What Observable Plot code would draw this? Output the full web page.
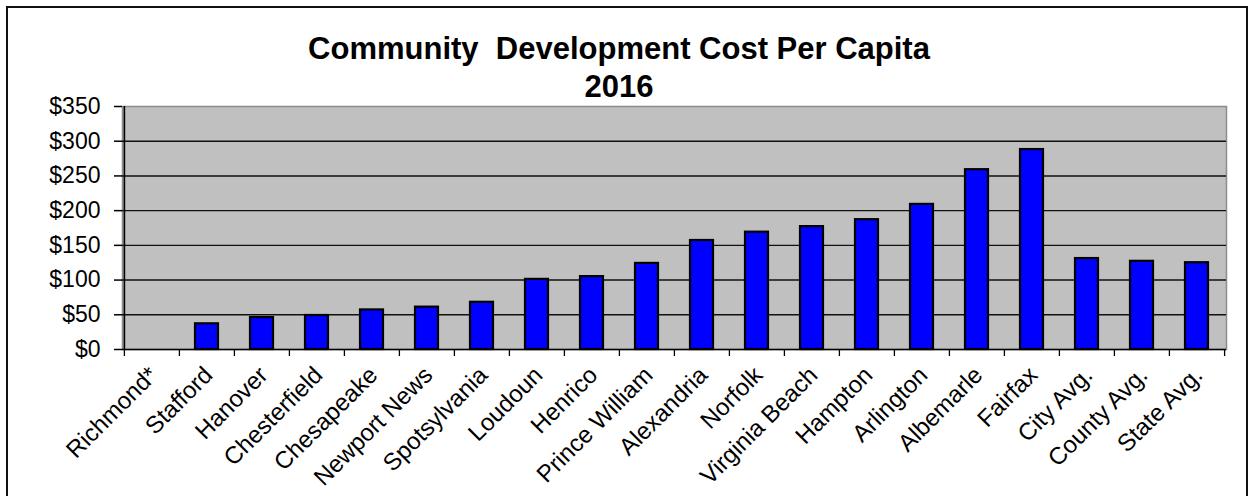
<!DOCTYPE html>
<html>
<head>
<meta charset="utf-8">
<script src="https://cdn.jsdelivr.net/npm/d3@7"></script>
<script src="https://cdn.jsdelivr.net/npm/@observablehq/plot@0.6"></script>
<style>
  html, body { margin: 0; padding: 0; background: #fff; }
  #wrap { position: relative; width: 1250px; height: 496px; overflow: hidden; font-family: "Liberation Sans", Arial, sans-serif; }
  #border { position: absolute; left: 6px; top: 6px; width: 1242px; height: 520px; border: 2px solid #111; box-sizing: border-box; }
  .title { position: absolute; left: 0; width: 1238px; text-align: center; font-weight: bold; font-size: 31px; line-height: 31px; color: #000; white-space: pre; }
  #chart { position: absolute; left: 0; top: 0; }
</style>
</head>
<body>
<div id="wrap">
  <div id="border"></div>
  <div id="chart"></div>
  <div class="title" id="t1" style="top:33px"></div>
  <div class="title" id="t2" style="top:71px"></div>
</div>
<script>
const titleLines = ["Community  Development Cost Per Capita", "2016"];
const categories = ["Richmond*","Stafford","Hanover","Chesterfield","Chesapeake","Newport News","Spotsylvania","Loudoun","Henrico","Prince William","Alexandria","Norfolk","Virginia Beach","Hampton","Arlington","Albemarle","Fairfax","City Avg.","County Avg.","State Avg."];
const values = [0,37,46,49,57,61,68,101,105,124,157,169,177,187,209,259,288,131,127,125];
const yTicks = [0,50,100,150,200,250,300,350];
const gridValues = [50,100,150,200,250,300];

document.getElementById("t1").textContent = titleLines[0];
document.getElementById("t2").textContent = titleLines[1];

const data = categories.map((c, i) => ({category: c, value: values[i]}));

const W = 1250, H = 496, mL = 122, mR = 24, mT = 106, mB = 147;
const step = (W - mL - mR) / categories.length;

const chart = Plot.plot({
  width: W,
  height: H,
  marginLeft: mL,
  marginRight: mR,
  marginTop: mT,
  marginBottom: mB,
  style: {fontFamily: "'Liberation Sans', Arial, sans-serif", fontSize: "22px", background: "transparent", overflow: "visible", color: "#000"},
  x: {domain: categories, paddingInner: 0.58, paddingOuter: 0.29, axis: null},
  y: {domain: [0, 350]},
  marks: [
    Plot.frame({fill: "#c0c0c0", stroke: "#8c8c8c", strokeWidth: 1.5}),
    Plot.ruleY(gridValues, {stroke: "#111", strokeWidth: 1.4}),
    Plot.barY(data, {filter: d => d.value > 0, x: "category", y: "value", fill: "#0000ff", stroke: "#000", strokeWidth: 2.2}),
    Plot.ruleY([0], {stroke: "#000", strokeWidth: 1.5}),
    Plot.ruleX([categories[0]], {dx: -step / 2, stroke: "#000", strokeWidth: 1.6}),
    Plot.ruleX(categories, {x: d => d, y1: d => 0, y2: d => 0, insetBottom: -7, dx: -step / 2, stroke: "#000", strokeWidth: 1.3}),
    Plot.ruleX([categories[categories.length - 1]], {x: d => d, y1: d => 0, y2: d => 0, insetBottom: -7, dx: step / 2, stroke: "#000", strokeWidth: 1.3}),
    Plot.axisY({ticks: yTicks, tickFormat: d => "$" + d, tickSize: 8, tickPadding: 14, fontSize: 23, stroke: "#000", strokeWidth: 1.5, label: null}),
    Plot.text(categories, {x: d => d, y: d => 0, text: d => d, rotate: -45, textAnchor: "end", lineAnchor: "top", dx: -5, dy: 15, fontSize: 24, fill: "#000"})
  ]
});
document.getElementById("chart").appendChild(chart);
</script>
</body>
</html>
